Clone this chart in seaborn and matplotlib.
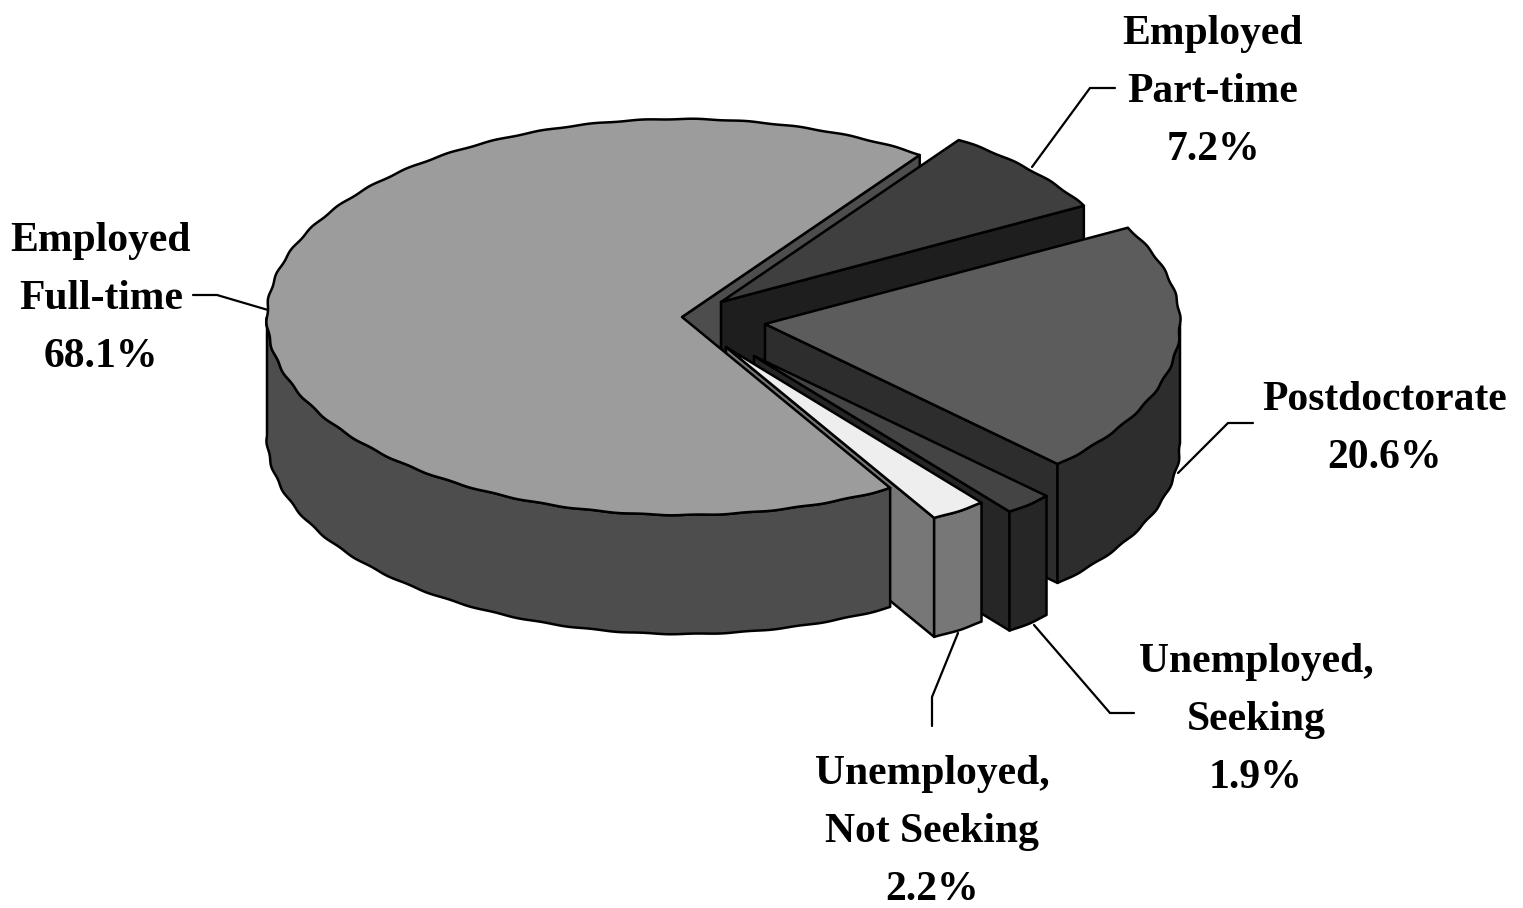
import numpy as np
import pandas as pd
import seaborn as sns
import matplotlib
matplotlib.use("Agg")
import matplotlib.pyplot as plt
from matplotlib.patches import Polygon

# Data, clockwise from the first slice
categories = ["Employed\nPart-time", "Postdoctorate", "Unemployed,\nSeeking",
              "Unemployed,\nNot Seeking", "Employed\nFull-time"]
percent = [7.2, 20.6, 1.9, 2.2, 68.1]

# Style
top_colors = ["#3f3f3f", "#5c5c5c", "#444444", "#eeeeee", "#9c9c9c"]
side_colors = ["#1e1e1e", "#2d2d2d", "#262626", "#777777", "#4d4d4d"]
apex_x = [721, 765, 754, 726, 682]
apex_y = [302, 324, 356, 347, 317]
label_x = [1213, 1385, 1256, 932, 101]
label_y = [92, 429, 720, 832, 299]

START, RX, RY, DEPTH = 55.0, 415, 198, 119

sns.set_theme(style="white")
plt.rcParams["font.family"] = ["Liberation Serif", "DejaVu Serif"]

df = pd.DataFrame({"category": categories, "percent": percent,
                   "top": top_colors, "side": side_colors,
                   "ax": apex_x, "ay": apex_y, "lx": label_x, "ly": label_y})
df["a_start"] = START - (df["percent"].cumsum() - df["percent"]) / df["percent"].sum() * 360
df["a_end"] = START - df["percent"].cumsum() / df["percent"].sum() * 360

fig = plt.figure(figsize=(15.23, 9.08), dpi=100)
ax = fig.add_axes([0, 0, 1, 1])
ax.set_xlim(0, 1523)
ax.set_ylim(908, 0)
ax.axis("off")

LW = 1.8


def rim(cx, cy, a1, a2, dz=0):
    t = np.radians(np.linspace(a1, a2, max(2, int(abs(a2 - a1) * 4))))
    wave = 1 + 0.0018 * np.sin(50 * t)  # the slightly scalloped outline of the original
    return np.column_stack([cx + RX * wave * np.cos(t), cy - RY * wave * np.sin(t) + dz])


def poly(points, color):
    ax.add_patch(Polygon(points, closed=True, facecolor=color, edgecolor="black",
                         linewidth=LW, joinstyle="round"))


def end_wall(s):
    r = rim(s.ax, s.ay, s.a_end, s.a_end)[0]
    poly([(s.ax, s.ay), r, (r[0], r[1] + DEPTH), (s.ax, s.ay + DEPTH)], s.side)


def outer_wall(s):
    a1, a2 = min(s.a_start, 0), max(s.a_end, -180)
    if a1 > a2:
        poly(np.vstack([rim(s.ax, s.ay, a1, a2), rim(s.ax, s.ay, a2, a1, DEPTH)]), s.side)


def top_face(s):
    poly(np.vstack([[(s.ax, s.ay)], rim(s.ax, s.ay, s.a_start, s.a_end)]), s.top)


rows = list(df.itertuples())
full = rows[-1]
end_wall(full)
for s in rows[:-1]:
    end_wall(s)
    outer_wall(s)
    top_face(s)
outer_wall(full)
top_face(full)

# Leader lines
leaders = [
    ([1115, 1090, 1032], [88, 88, 167]),
    ([1253, 1228, 1178], [423, 423, 473]),
    ([1134, 1110, 1034], [713, 713, 625]),
    ([932, 932, 958], [726, 697, 633]),
    ([193, 217, 268], [295, 295, 310]),
]
for lx, ly in leaders:
    ax.plot(lx, ly, color="black", lw=1.6, solid_joinstyle="miter", zorder=1)

# Labels
for s in rows:
    ax.text(s.lx, s.ly, f"{s.category}\n{s.percent:.1f}%", ha="center", va="center",
            multialignment="center", fontsize=30, fontweight="bold", color="black",
            linespacing=1.68)

fig.savefig("out.png", dpi=100, facecolor="white")
